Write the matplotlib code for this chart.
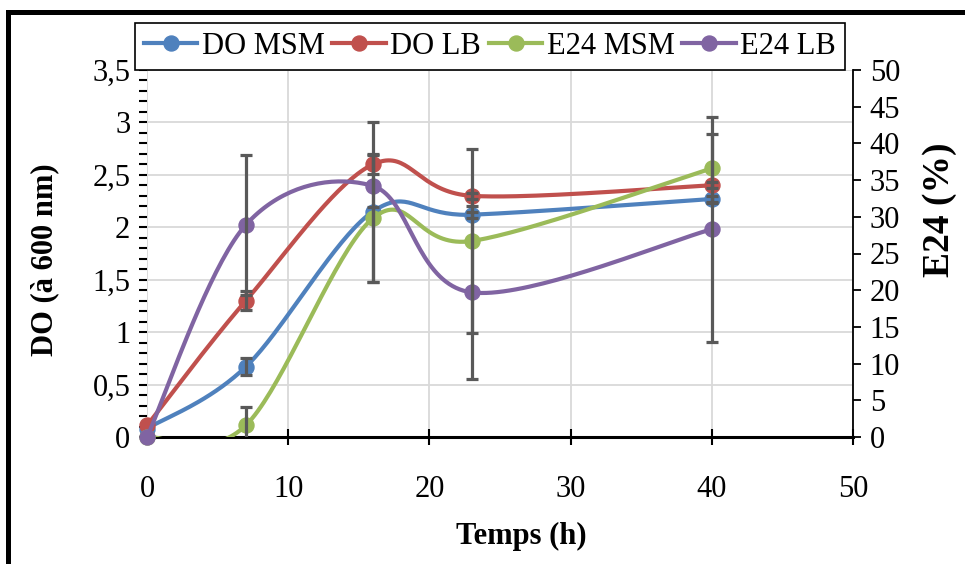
import numpy as np
import matplotlib
matplotlib.use("Agg")
import matplotlib.pyplot as plt
from matplotlib.lines import Line2D
from matplotlib.ticker import MultipleLocator, FuncFormatter

plt.rcParams['font.family'] = ['Liberation Serif', 'DejaVu Serif']

# ---- data ----
temps = [0, 7, 16, 23, 40]
do_msm = [0.08, 0.67, 2.15, 2.12, 2.27]
do_msm_err = [0.0, 0.08, 0.04, 0.03, 0.03]
do_lb = [0.11, 1.30, 2.60, 2.30, 2.40]
do_lb_err = [0.0, 0.09, 0.09, 0.03, 0.03]
e24_msm = [0.0, 1.6, 29.8, 26.7, 36.6]
e24_msm_err = [0.0, 2.5, 8.7, 12.5, 4.7]
e24_lb = [0.0, 28.9, 34.2, 19.7, 28.3]
e24_lb_err_low = [0.0, 9.5, 13.1, 11.8, 15.3]
e24_lb_err_high = [0.0, 9.5, 8.7, 11.8, 15.3]

labels = ["DO MSM", "DO LB", "E24 MSM", "E24 LB"]
colors = ["#4F81BD", "#C0504D", "#9BBB59", "#8064A2"]
ERR_COLOR = "#595959"


def excel_smooth(x, y, n=40):
    """Excel-style smoothed line (Catmull-Rom Bezier)."""
    P = np.column_stack([np.asarray(x, float), np.asarray(y, float)])
    Pp = np.vstack([P[0], P, P[-1]])
    ts = np.linspace(0, 1, n)[:, None]
    segs = []
    for i in range(len(P) - 1):
        p0 = P[i]
        p3 = P[i + 1]
        p1 = p0 + (Pp[i + 2] - Pp[i]) / 6.0
        p2 = p3 - (Pp[i + 3] - Pp[i + 1]) / 6.0
        b = ((1 - ts) ** 3) * p0 + 3 * ((1 - ts) ** 2) * ts * p1 + 3 * (1 - ts) * ts ** 2 * p2 + ts ** 3 * p3
        segs.append(b if i == 0 else b[1:])
    c = np.vstack(segs)
    return c[:, 0], c[:, 1]


fig = plt.figure(figsize=(9.65, 5.64), dpi=100)
W, H = 965, 564
ax1 = fig.add_axes([147 / W, 1 - 437 / H, (853 - 147) / W, (437 - 70) / H])
ax2 = ax1.twinx()

LW = 3.0
MS = 10.8

def draw(ax, x, y, col, z):
    sx, sy = excel_smooth(x, y)
    ax.plot(sx, sy, color=col, lw=LW, solid_capstyle='round', zorder=z)
    ax.plot(x, y, 'o', color=col, ms=MS, mec=col, clip_on=False, zorder=z + 0.1)

def errs(ax, x, y, lo, hi):
    x = np.asarray(x, float); y = np.asarray(y, float)
    lo = np.asarray(lo, float); hi = np.asarray(hi, float)
    m = (lo > 0) | (hi > 0)
    ax.errorbar(x[m], y[m], yerr=[lo[m], hi[m]], fmt='none', ecolor=ERR_COLOR,
                elinewidth=2.3, capsize=4.5, capthick=2.3, zorder=10)

draw(ax1, temps, do_msm, colors[0], 3)
draw(ax1, temps, do_lb, colors[1], 4)
errs(ax1, temps, do_msm, do_msm_err, do_msm_err)
errs(ax1, temps, do_lb, do_lb_err, do_lb_err)

draw(ax2, temps, e24_msm, colors[2], 3)
draw(ax2, temps, e24_lb, colors[3], 4)
errs(ax2, temps, e24_msm, e24_msm_err, e24_msm_err)
errs(ax2, temps, e24_lb, e24_lb_err_low, e24_lb_err_high)

# ---- axes ----
ax1.set_xlim(0, 50)
ax1.set_ylim(0, 3.5)
ax2.set_ylim(0, 50)

ax1.xaxis.set_major_locator(MultipleLocator(10))
ax1.yaxis.set_major_locator(MultipleLocator(0.5))
ax1.yaxis.set_minor_locator(MultipleLocator(0.1))
ax2.yaxis.set_major_locator(MultipleLocator(5))

def comma(v, pos):
    s = ("%g" % round(v, 2))
    return s.replace('.', ',')
ax1.yaxis.set_major_formatter(FuncFormatter(comma))

ax1.grid(True, which='major', color='#D9D9D9', lw=1.3, zorder=0)
ax1.set_axisbelow(True)

for sp in ['top', 'left', 'right']:
    ax1.spines[sp].set_visible(False)
for sp in ['top', 'left', 'bottom']:
    ax2.spines[sp].set_visible(False)
ax1.spines['bottom'].set_linewidth(2.2)
ax1.spines['bottom'].set_color('black')
ax2.spines['right'].set_linewidth(1.3)
ax2.spines['right'].set_color('black')

TFS = 22
ax1.tick_params(axis='x', direction='inout', length=11, width=1.5, labelsize=TFS, pad=22)
ax1.tick_params(axis='y', which='major', direction='out', length=6, width=1.5, labelsize=TFS, pad=6)
ax1.tick_params(axis='y', which='minor', direction='out', length=6, width=1.5)
ax2.tick_params(axis='y', direction='out', length=6, width=1.3, labelsize=TFS, pad=6)

ax1.set_xlabel("Temps (h)", fontsize=22, fontweight='bold')
ax1.xaxis.set_label_coords((521 - 147) / 706, (437 - 536) / 367)
ax1.xaxis.label.set_va('center')
ax1.set_ylabel("DO (à 600 nm)", fontsize=22, fontweight='bold')
ax1.yaxis.set_label_coords((45 - 147) / 706, (437 - 260) / 367)
ax1.yaxis.label.set_va('center')
ax2.set_ylabel("E24 (%)", fontsize=27, fontweight='bold')
ax2.yaxis.set_label_coords((940 - 147) / 706, (437 - 210) / 367)
ax2.yaxis.label.set_va('center')

# ---- legend ----
handles = [Line2D([], [], color=c, lw=LW, marker='o', ms=MS) for c in colors]
leg = fig.legend(handles, labels, loc='lower center',
                 bbox_to_anchor=((133 + 847) / 2 / W, 1 - 70 / H),
                 bbox_transform=fig.transFigure, ncol=4, fontsize=22,
                 frameon=True, fancybox=False, edgecolor='black', framealpha=1,
                 handlelength=1.75, handletextpad=0.15, columnspacing=0.25,
                 borderpad=0.3, borderaxespad=0)
leg.get_frame().set_linewidth(1.2)

# ---- outer border ----
fig.add_artist(Line2D([8 / W, 8 / W], [-0.1, 1 - 12 / H], color='black', lw=3.6,
                      transform=fig.transFigure, solid_capstyle='projecting'))
fig.add_artist(Line2D([8 / W, 1.1], [1 - 12 / H, 1 - 12 / H], color='black', lw=3.6,
                      transform=fig.transFigure, solid_capstyle='projecting'))

fig.savefig("out.png", dpi=100)
